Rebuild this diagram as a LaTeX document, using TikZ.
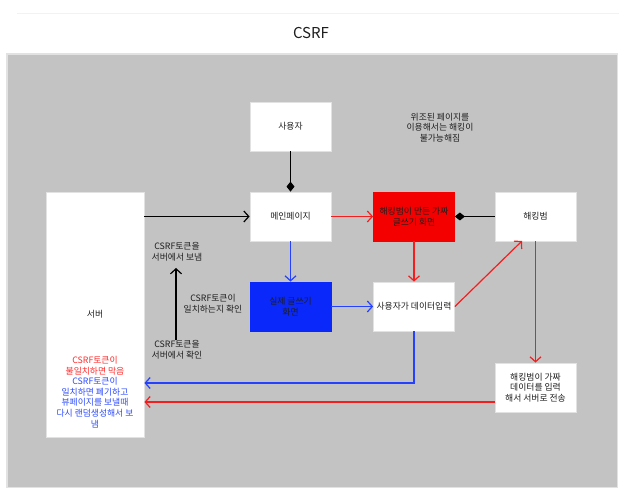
\documentclass[tikz,border=0pt]{standalone}
\usepackage{fontspec}
\setmainfont{Noto Sans CJK KR}
\usetikzlibrary{arrows.meta}
\definecolor{bggray}{HTML}{C3C3C3}
\definecolor{edgegray}{HTML}{E2E2E2}
\definecolor{boxblue}{HTML}{0A28FA}
\definecolor{lineblue}{HTML}{2341FF}
\definecolor{linered}{HTML}{F41E1E}
\definecolor{boxred}{HTML}{F50000}
\definecolor{txtred}{HTML}{FF2B2B}
\definecolor{txtblue}{HTML}{2D4BFF}
\definecolor{txt}{HTML}{1E1E1E}
\begin{document}
\begin{tikzpicture}[x=1pt,y=-1pt,
  box/.style={draw=edgegray, line width=0.8pt, fill=white, minimum width=81pt, minimum height=49pt,
    align=center, font=\fontsize{8.8}{10.7}\selectfont, text=txt, inner sep=1pt},
  lbl/.style={align=center, font=\fontsize{8.8}{10.7}\selectfont, text=txt, inner sep=0pt},
  conn/.style={line width=1.2pt},
  barb/.style={-{Straight Barb[length=5pt,width=11pt,line width=1.2pt]}},
  dia/.style={-{Diamond[length=10pt,width=8pt]}}
]
\useasboundingbox (0,0) rectangle (619,489);
\fill[white] (0,0) rectangle (619,489);
\draw[black!5, line width=0.6pt] (17,13) -- (619,13);
\fill[bggray, draw=edgegray, line width=1.4pt] (7,54) rectangle (617.5,487.5);
\node[font=\fontsize{15}{18}\selectfont, text=txt] (title) at (311,33.5) {CSRF};

\node[box] (user) at (290.5,126.5) {사용자};
\node[box] (main) at (290.5,216.5) {메인페이지};
\node[box, fill=boxred, draw=boxred] (fake) at (414,216.5) {해킹범이 만든 가짜\\글쓰기 화면};
\node[box] (hacker) at (535.5,216.5) {해킹범};
\node[box, fill=boxblue, draw=boxblue] (real) at (290.5,306.5) {실제 글쓰기\\화면};
\node[box] (input) at (414,306.5) {사용자가 데이터입력};
\node[box] (hackin) at (535.5,387.5) {해킹범이 가짜\\데이터를 입력\\해서 서버로 전송};
\node[box, minimum width=98pt, minimum height=245pt] (server) at (95,314.5) {서버};

\node[lbl] (note) at (440,127.5) {위조된 페이지를\\이용해서는 해킹이\\불가능해짐};
\node[lbl, text=txtred] (redtxt) at (95,365.5) {CSRF토큰이\\불일치하면 막음};
\node[lbl, text=txtblue] (bluetxt) at (95,402.5) {CSRF토큰이\\일치하면 폐기하고\\뷰페이지를 보낼때\\다시 랜덤생성해서 보\\냄};
\node[lbl] (send) at (177,252) {CSRF토큰을\\서버에서 보냄};
\node[lbl] (match) at (213,304) {CSRF토큰이\\일치하는지 확인};
\node[lbl] (check) at (177,349.5) {CSRF토큰을\\서버에서 확인};

\coordinate (va1) at (176,340);
\coordinate (va2) at (176,268);
\coordinate (hb) at (522,241);
\coordinate (b1) at (414,383);
\coordinate (r2) at (495,402);

\draw[conn, black, dia] (user) -- (main);
\draw[conn, black, barb] (server.east |- main.west) -- (main.west);
\draw[conn, linered, barb] (main) -- (fake);
\draw[conn, black, dia] (hacker) -- (fake);
\draw[conn, lineblue, barb] (main) -- (real);
\draw[conn, linered, barb] (fake) -- (input);
\draw[conn, lineblue, barb] (real) -- (input);
\draw[conn, linered, barb] (input.east) -- (hb);
\draw[conn, linered, barb] (hacker) -- (hackin);
\draw[conn, lineblue, barb] (input.south) |- (server.east |- b1);
\draw[conn, linered, barb] (r2) -- (server.east |- r2);
\draw[conn, black, barb] (va1) -- (va2);
\end{tikzpicture}
\end{document}
